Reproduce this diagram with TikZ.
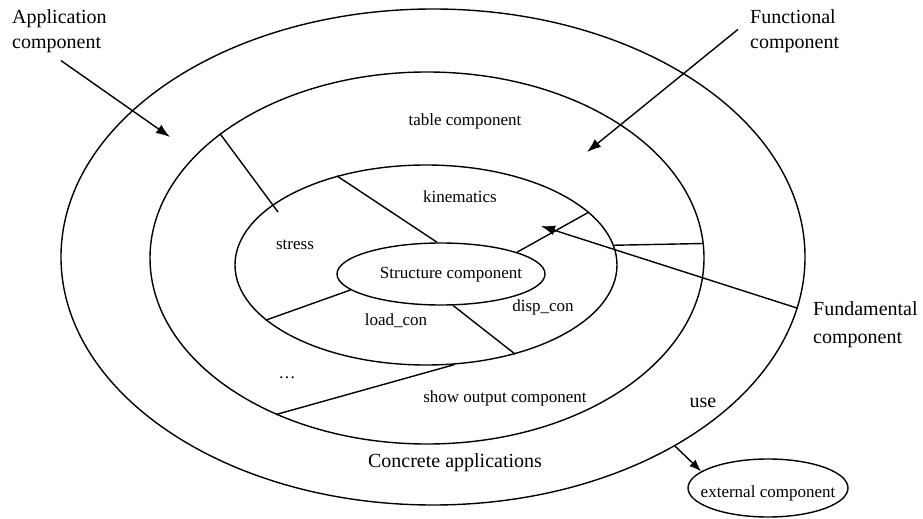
\documentclass[tikz,border=0pt]{standalone}
\usepackage{fontspec}
\setmainfont{Liberation Serif}
\usetikzlibrary{arrows.meta,shapes.geometric}

\begin{document}
\begin{tikzpicture}[x=1bp,y=-1bp,
  ring/.style={draw, line width=1.4bp, ellipse, inner sep=0pt},
  biglabel/.style={font=\fontsize{20bp}{25bp}\selectfont, inner sep=0pt},
  smalllabel/.style={font=\fontsize{17bp}{20bp}\selectfont, inner sep=0pt},
  divider/.style={line width=1.4bp},
  arr/.style={line width=1.4bp, -{Latex[length=14bp,width=10bp]}},
  smallarr/.style={line width=1.4bp, -{Latex[length=12bp,width=9bp]}},
]
\useasboundingbox (0,0) rectangle (923,519);

% nested component rings
\node[ring, minimum width=744bp, minimum height=496bp] (outer) at (433,257) {};
\node[ring, minimum width=554bp, minimum height=372bp] (mid) at (427,258) {};
\node[ring, minimum width=382bp, minimum height=200bp] (inner) at (426,265) {};
\node[ring, minimum width=208bp, minimum height=62bp, smalllabel] (struct) at (441,274) {};
\node[smalllabel] (structtxt) at (451,275) {Structure component};
\node[ring, minimum width=160bp, minimum height=58bp] (ext) at (768,488) {};
\node[smalllabel] (exttxt) at (768,493) {external component};

% dividers between the rings
\coordinate (d1end) at (278,212);
\draw[divider] (mid.149) -- (d1end);
\draw[divider] (inner.135.6) -- (struct.97);
\draw[divider] (inner.199.2) -- (struct.190);
\draw[divider] (struct.291) -- (inner.315.6);
\draw[divider] (struct.16) -- (inner.18);
\draw[divider] (inner.6.6) -- (mid.3.1);
\draw[divider] (mid.226.3) -- (inner.286.3);

% ring labels
\node[smalllabel] (table) at (465,121) {table component};
\node[smalllabel] (kin) at (460,197) {kinematics};
\node[smalllabel] (stress) at (295,245) {stress};
\node[smalllabel] (load) at (396,321) {load\_con};
\node[smalllabel] (disp) at (543,307) {disp\_con};
\node[smalllabel, anchor=base] (dots) at (287,378) {\dots};
\node[smalllabel] (show) at (505,398) {show output component};
\node[biglabel] (use) at (703,403) {use};
\node[biglabel] (concrete) at (455,463) {Concrete applications};

% outside callouts
\node[biglabel, anchor=north west, align=left] (app) at (12,9.6) {Application\\component};
\node[biglabel, anchor=north west, align=left] (func) at (750,9.6) {Functional\\component};
\node[biglabel, anchor=north west, align=left,
      font=\fontsize{20bp}{28bp}\selectfont] (fund) at (813,301.3) {Fundamental\\component};

\coordinate (apptip) at (170,137);
\coordinate (functip) at (587,152);
\coordinate (fundtip) at (541,226);
\draw[arr] ([xshift=1.5bp,yshift=-7.4bp]app.south) -- (apptip);
\draw[arr] ([xshift=-12bp,yshift=2bp]func.west) -- (functip);
\draw[arr] (outer.352.2) -- (fundtip);
\draw[smallarr] (outer.322.3) -- (ext.166);
\end{tikzpicture}
\end{document}
